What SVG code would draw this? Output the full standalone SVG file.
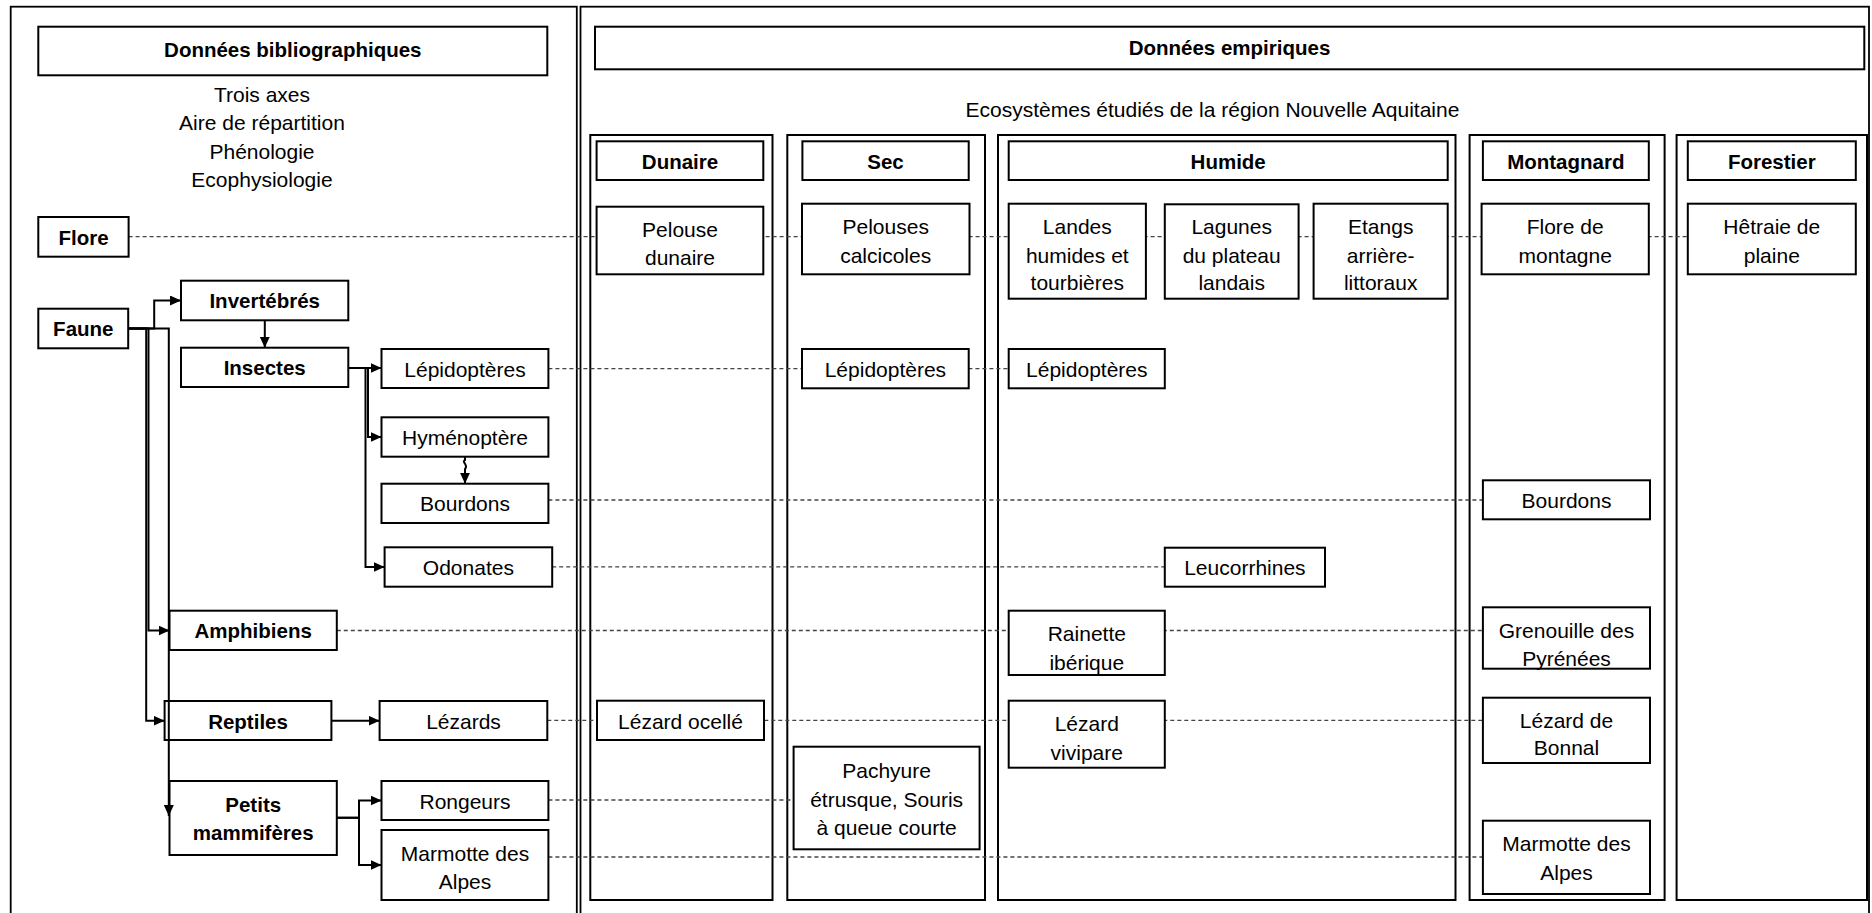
<svg xmlns="http://www.w3.org/2000/svg" width="1872" height="913" viewBox="0 0 1872 913">
<defs>
<style>
text{font-family:"Liberation Sans",Arial,sans-serif;font-size:21px;fill:#000;text-anchor:middle}
.b{font-weight:bold;font-size:20.5px}
.box{fill:#fff;stroke:#000;stroke-width:2}
.panel{fill:none;stroke:#000;stroke-width:1.8}
.col{fill:none;stroke:#000;stroke-width:2}
.dash{fill:none;stroke:#444;stroke-width:1.3;stroke-dasharray:4 3}
.con{fill:none;stroke:#000;stroke-width:2}
</style>
<marker id="ah" markerUnits="userSpaceOnUse" markerWidth="11" markerHeight="10" refX="11" refY="5" orient="auto">
<path d="M0,0 L11,5 L0,10 z" fill="#000"/>
</marker>
</defs>
<rect width="1872" height="913" fill="#fff"/>

<g id="panels">
<rect class="panel" x="10.7" y="6.7" width="566.1" height="915"/>
<rect class="panel" x="580.5" y="6.7" width="1288.5" height="915"/>
<rect class="col" x="590.3" y="135" width="182.2" height="765"/>
<rect class="col" x="787.3" y="135" width="197.7" height="765"/>
<rect class="col" x="998" y="135" width="457.5" height="765"/>
<rect class="col" x="1469.6" y="135" width="195" height="765"/>
<rect class="col" x="1676.6" y="135" width="190.4" height="765"/>
</g>

<g id="connectors-dashed">
<path class="dash" d="M128.6,236.7 H1687.8"/>
<path class="dash" d="M548.4,368.7 H1008.7"/>
<path class="dash" d="M548.4,500 H1482.9"/>
<path class="dash" d="M552.2,566.8 H1164.8"/>
<path class="dash" d="M336.8,630.5 H1482.9"/>
<path class="dash" d="M547.3,720.3 H1482.9"/>
<path class="dash" d="M548.4,800 H793.6"/>
<path class="dash" d="M548.4,857 H1482.9"/>
</g>

<g id="n-biblio"><rect class="box" x="38.3" y="26.7" width="509" height="48.6"/><text class="b" x="292.8" y="57">Données bibliographiques</text></g>
<g id="n-axes">
<text x="262" y="101.5">Trois axes</text>
<text x="262" y="130">Aire de répartition</text>
<text x="262" y="158.5">Phénologie</text>
<text x="262" y="187">Ecophysiologie</text>
</g>
<g id="n-flore"><rect class="box" x="38.3" y="217" width="90.3" height="39.7"/><text class="b" x="83.5" y="244.5">Flore</text></g>
<g id="n-faune"><rect class="box" x="38.3" y="308.7" width="89.9" height="39.6"/><text class="b" x="83.3" y="336">Faune</text></g>
<g id="n-invertebres"><rect class="box" x="181" y="280.7" width="167.3" height="39.6"/><text class="b" x="264.7" y="308">Invertébrés</text></g>
<g id="n-insectes"><rect class="box" x="181" y="347.7" width="167.3" height="39.3"/><text class="b" x="264.7" y="375">Insectes</text></g>
<g id="n-lepido"><rect class="box" x="381.5" y="349" width="166.9" height="39"/><text x="465" y="376.5">Lépidoptères</text></g>
<g id="n-hymeno"><rect class="box" x="381.5" y="417.3" width="166.9" height="39.4"/><text x="465" y="445">Hyménoptère</text></g>
<g id="n-bourdons"><rect class="box" x="381.5" y="483.7" width="166.9" height="39.3"/><text x="465" y="511">Bourdons</text></g>
<g id="n-odonates"><rect class="box" x="384.6" y="547.3" width="167.6" height="39.4"/><text x="468.4" y="575">Odonates</text></g>
<g id="n-amphibiens"><rect class="box" x="169.5" y="610.7" width="167.3" height="39.3"/><text class="b" x="253.2" y="638">Amphibiens</text></g>
<g id="n-reptiles"><rect class="box" x="164.6" y="701" width="166.8" height="39"/><text class="b" x="248" y="728.5">Reptiles</text></g>
<g id="n-lezards"><rect class="box" x="379.6" y="701" width="167.7" height="39"/><text x="463.5" y="728.5">Lézards</text></g>
<g id="n-petits"><rect class="box" x="169.5" y="781" width="167.3" height="74"/><text class="b" x="253.2" y="812">Petits</text><text class="b" x="253.2" y="840">mammifères</text></g>
<g id="n-rongeurs"><rect class="box" x="381.5" y="781" width="166.9" height="39"/><text x="465" y="808.5">Rongeurs</text></g>
<g id="n-marmotte"><rect class="box" x="381.5" y="830" width="166.9" height="70"/><text x="465" y="861">Marmotte des</text><text x="465" y="889">Alpes</text></g>

<g id="n-empiriques"><rect class="box" x="595" y="26.7" width="1269.3" height="42.6"/><text class="b" x="1229.5" y="55">Données empiriques</text></g>
<g id="n-ecosystemes"><text x="1212.5" y="116.5">Ecosystèmes étudiés de la région Nouvelle Aquitaine</text></g>

<g id="n-dunaire"><rect class="box" x="596.6" y="141.3" width="166.7" height="38.7"/><text class="b" x="680" y="168.5">Dunaire</text></g>
<g id="n-sec"><rect class="box" x="802.4" y="141.3" width="166.3" height="38.7"/><text class="b" x="885.5" y="168.5">Sec</text></g>
<g id="n-humide"><rect class="box" x="1008.7" y="141.3" width="439" height="38.7"/><text class="b" x="1228.2" y="168.5">Humide</text></g>
<g id="n-montagnard"><rect class="box" x="1482.9" y="141.3" width="165.9" height="38.7"/><text class="b" x="1565.8" y="168.5">Montagnard</text></g>
<g id="n-forestier"><rect class="box" x="1687.8" y="141.3" width="168" height="38.7"/><text class="b" x="1771.8" y="168.5">Forestier</text></g>

<g id="n-pelouse-dunaire"><rect class="box" x="596.6" y="206.7" width="166.7" height="67.6"/><text x="680" y="236.5">Pelouse</text><text x="680" y="264.5">dunaire</text></g>
<g id="n-pelouses-calcicoles"><rect class="box" x="802" y="203.7" width="167.5" height="70.6"/><text x="885.7" y="233.5">Pelouses</text><text x="885.7" y="262.5">calcicoles</text></g>
<g id="n-landes"><rect class="box" x="1008.7" y="203.7" width="137.2" height="95"/><text x="1077.3" y="234">Landes</text><text x="1077.3" y="262.5">humides et</text><text x="1077.3" y="290">tourbières</text></g>
<g id="n-lagunes"><rect class="box" x="1164.8" y="204.3" width="133.8" height="94.4"/><text x="1231.7" y="234">Lagunes</text><text x="1231.7" y="262.5">du plateau</text><text x="1231.7" y="290">landais</text></g>
<g id="n-etangs"><rect class="box" x="1313.6" y="203.7" width="134.1" height="95"/><text x="1380.7" y="234">Etangs</text><text x="1380.7" y="262.5">arrière-</text><text x="1380.7" y="290">littoraux</text></g>
<g id="n-flore-montagne"><rect class="box" x="1481.6" y="203.7" width="167.2" height="70.6"/><text x="1565.2" y="233.5">Flore de</text><text x="1565.2" y="262.5">montagne</text></g>
<g id="n-hetraie"><rect class="box" x="1687.8" y="203.7" width="168" height="70.6"/><text x="1771.8" y="233.5">Hêtraie de</text><text x="1771.8" y="262.5">plaine</text></g>

<g id="n-lepido-sec"><rect class="box" x="802" y="349" width="166.7" height="39.3"/><text x="885.4" y="377">Lépidoptères</text></g>
<g id="n-lepido-humide"><rect class="box" x="1008.7" y="349" width="156.1" height="39.3"/><text x="1086.8" y="377">Lépidoptères</text></g>
<g id="n-bourdons-mont"><rect class="box" x="1482.9" y="480.3" width="167.1" height="39"/><text x="1566.5" y="508">Bourdons</text></g>
<g id="n-leucorrhines"><rect class="box" x="1164.8" y="547.7" width="160.2" height="39"/><text x="1244.9" y="575">Leucorrhines</text></g>
<g id="n-rainette"><rect class="box" x="1008.7" y="610.7" width="156.1" height="64.3"/><text x="1086.8" y="641">Rainette</text><text x="1086.8" y="669.5">ibérique</text></g>
<g id="n-grenouille"><rect class="box" x="1482.9" y="607.3" width="167.1" height="61.4"/><text x="1566.5" y="638">Grenouille des</text><text x="1566.5" y="666">Pyrénées</text></g>
<g id="n-lezard-ocelle"><rect class="box" x="597" y="700.7" width="167" height="39.3"/><text x="680.5" y="728.5">Lézard ocellé</text></g>
<g id="n-lezard-vivipare"><rect class="box" x="1008.7" y="700.7" width="156.1" height="67"/><text x="1086.8" y="730.5">Lézard</text><text x="1086.8" y="759.5">vivipare</text></g>
<g id="n-lezard-bonnal"><rect class="box" x="1482.9" y="697.7" width="167.1" height="65.3"/><text x="1566.5" y="728">Lézard de</text><text x="1566.5" y="755">Bonnal</text></g>
<g id="n-pachyure"><rect class="box" x="793.6" y="746.7" width="186" height="102.6"/><text x="886.6" y="778">Pachyure</text><text x="886.6" y="807">étrusque, Souris</text><text x="886.6" y="834.5">à queue courte</text></g>
<g id="n-marmotte-mont"><rect class="box" x="1482.9" y="820.7" width="167.1" height="73.3"/><text x="1566.5" y="850.5">Marmotte des</text><text x="1566.5" y="879.5">Alpes</text></g>

<g id="connectors">
<path class="con" d="M128.2,328.5 H154.2 V300.5 H181" marker-end="url(#ah)"/>
<path class="con" d="M128.2,328.5 H148.5 V630.5 H169.5" marker-end="url(#ah)"/>
<path class="con" d="M128.2,328.5 H146.2 V720.7 H164.6" marker-end="url(#ah)"/>
<path class="con" d="M128.2,328.5 H168.8 V816" marker-end="url(#ah)"/>
<path class="con" d="M264.8,320.3 V347.7" marker-end="url(#ah)"/>
<path class="con" d="M348.3,368 H381.5" marker-end="url(#ah)"/>
<path class="con" d="M348.3,368 H368 V437 H381.5" marker-end="url(#ah)"/>
<path class="con" d="M348.3,368 H365.5 V567 H384.6" marker-end="url(#ah)"/>
<path class="con" d="M465,456.7 V460 C461,462 469,465 465,469 V483.7" marker-end="url(#ah)"/>
<path class="con" d="M331.4,720.7 H379.6" marker-end="url(#ah)"/>
<path class="con" d="M336.8,817.7 H359 V800.5 H381.5" marker-end="url(#ah)"/>
<path class="con" d="M336.8,817.7 H359 V865 H381.5" marker-end="url(#ah)"/>
</g>
</svg>
